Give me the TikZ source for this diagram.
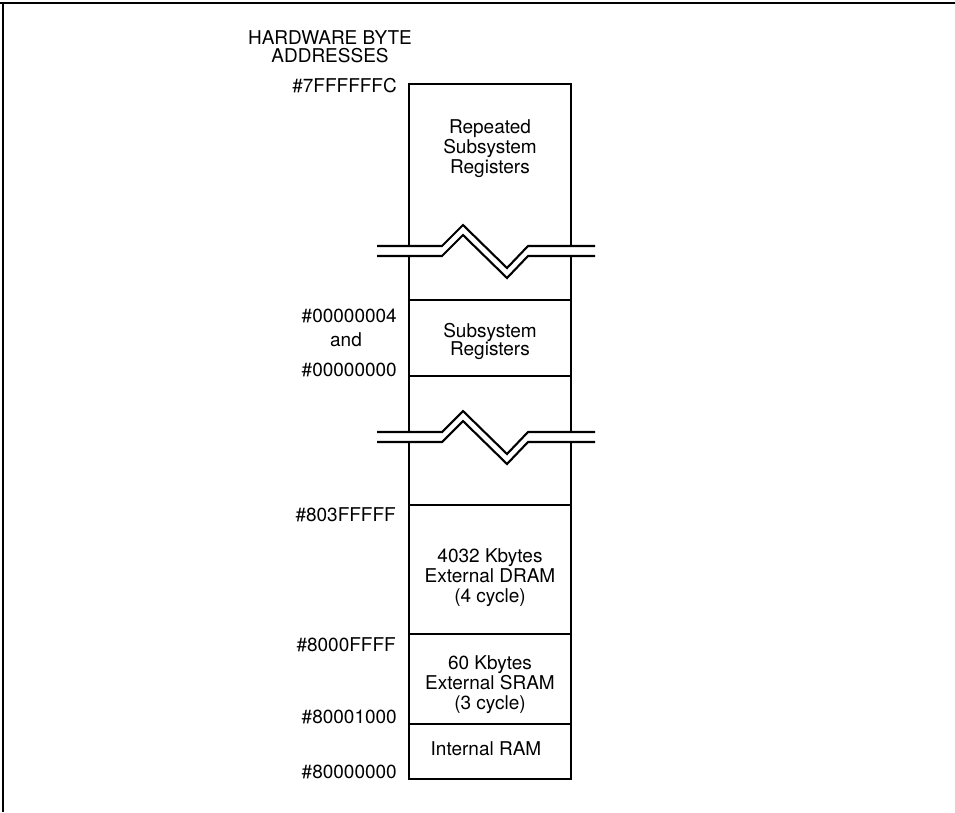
\documentclass[tikz,border=0pt]{standalone}
\usepackage{fontspec}
\setmainfont{TeX Gyre Heros}
\begin{document}
\begin{tikzpicture}[x=1pt,y=-1pt,
  memline/.style={line width=2.1pt, line join=miter, line cap=rect},
  txt/.style={font=\fontsize{19}{20}\selectfont, inner sep=0pt, align=center},
  tighttxt/.style={font=\fontsize{19}{18}\selectfont, inner sep=0pt, align=center},
  addr/.style={font=\fontsize{19}{20}\selectfont, inner sep=0pt, anchor=east}]
\useasboundingbox (0,0) rectangle (955,812);
% outer frame (top and left edges)
\draw[line width=1.5pt] (0,3) -- (955,3);
\draw[line width=1.2pt] (3,3) -- (3,812);
% memory column
\draw[memline] (409,84) rectangle (571,779);
\foreach \yy in {300,376,505,634,724}
  \draw[memline] (409,\yy) -- (571,\yy);
% break symbols
\foreach \b in {246,432}{
  \fill[white] (377,\b) -- (442,\b) -- (463,\b-21) -- (507,\b+22) -- (528,\b) -- (595,\b)
     -- (595,\b+10) -- (528,\b+10) -- (507,\b+32) -- (463,\b-11) -- (442,\b+10) -- (377,\b+10) -- cycle;
  \draw[memline, line cap=butt] (377,\b) -- (442,\b) -- (463,\b-21) -- (507,\b+22) -- (528,\b) -- (595,\b);
  \draw[memline, line cap=butt] (377,\b+10) -- (442,\b+10) -- (463,\b-11) -- (507,\b+32) -- (528,\b+10) -- (595,\b+10);
}
% title
\node[tighttxt] (title) at (330,47) {HARDWARE BYTE\\ADDRESSES};
% region texts
\node[txt] (rep) at (490,149) {Repeated\\Subsystem\\Registers};
\node[tighttxt] (sub) at (490,341) {Subsystem\\Registers};
\node[txt] (dram) at (490,578) {4032 Kbytes\\External DRAM\\(4 cycle)};
\node[txt] (sram) at (490,685) {60 Kbytes\\External SRAM\\(3 cycle)};
\node[txt] (iram) at (486,749) {Internal RAM};
% addresses
\node[addr] (a1) at (397,86) {\#7FFFFFFC};
\node[addr] (a2) at (397,316) {\#00000004};
\node[txt] (a3) at (346,340) {and};
\node[addr] (a4) at (397,370) {\#00000000};
\node[addr] (a5) at (396,515) {\#803FFFFF};
\node[addr] (a6) at (396,645) {\#8000FFFF};
\node[addr] (a7) at (397,717) {\#80001000};
\node[addr] (a8) at (397,772) {\#80000000};
\end{tikzpicture}
\end{document}
